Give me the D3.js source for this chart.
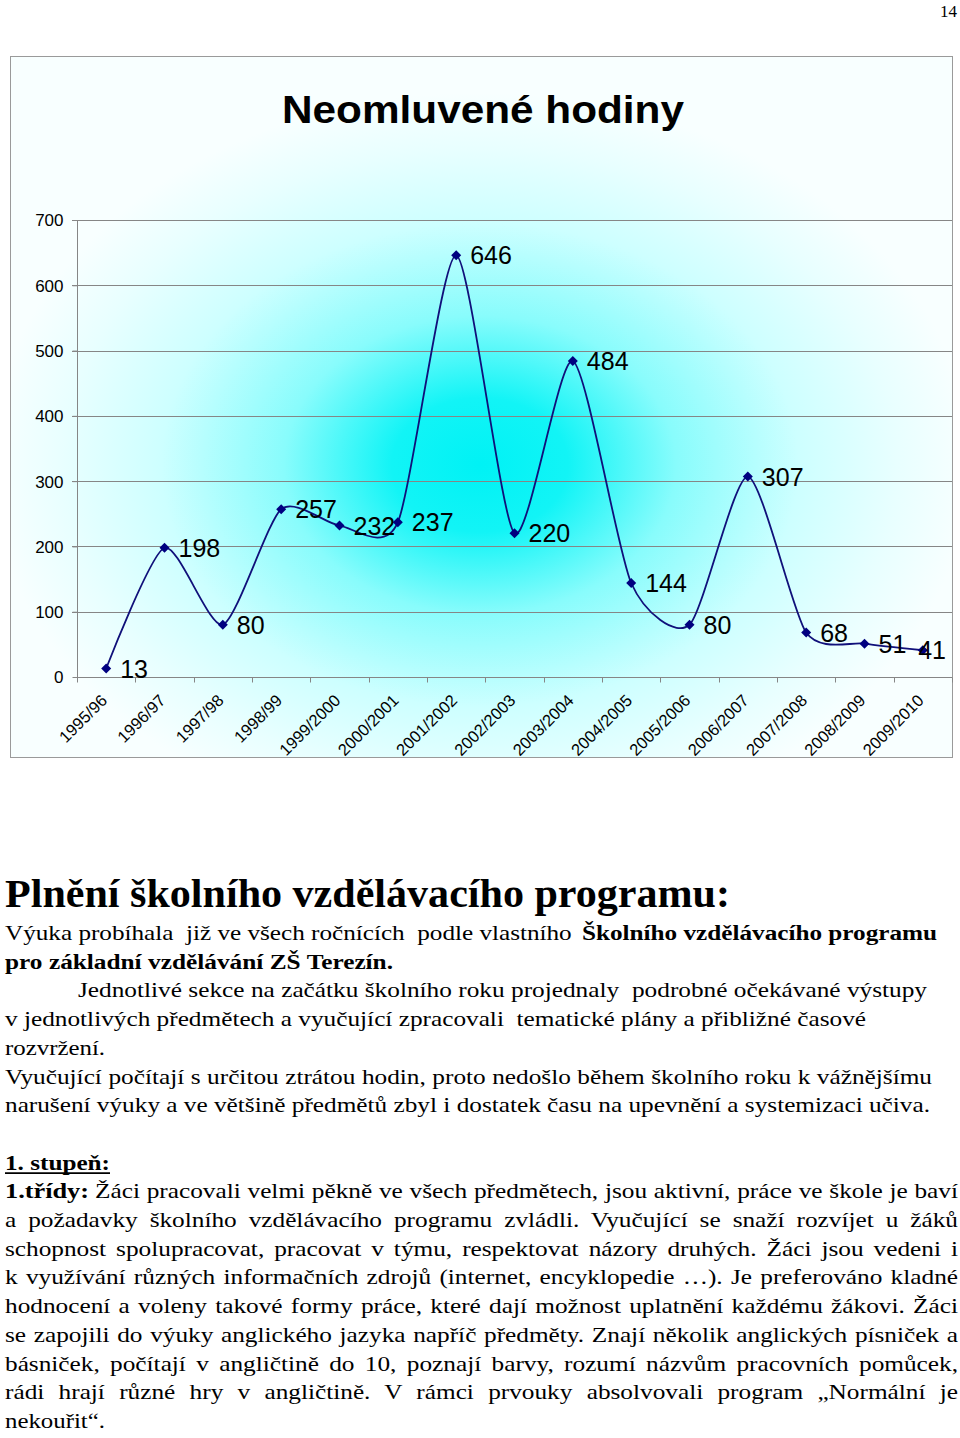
<!DOCTYPE html>
<html><head><meta charset="utf-8">
<script src="https://cdn.jsdelivr.net/npm/d3@7"></script>
<style>
body{margin:0;background:#fff;}
svg{display:block;}
text{white-space:pre;}
.sans{font-family:"Liberation Sans", Arial, sans-serif;}
.serif{font-family:"Liberation Serif", "Times New Roman", serif;}
</style>
</head><body>
<svg id="c" width="960" height="1438"></svg>
<script>
// ---------- chart data ----------
const categories = ["1995/96","1996/97","1997/98","1998/99","1999/2000","2000/2001","2001/2002","2002/2003","2003/2004","2004/2005","2005/2006","2006/2007","2007/2008","2008/2009","2009/2010"];
const values = [13,198,80,257,232,237,646,220,484,144,80,307,68,51,41];
const yTicks = [0,100,200,300,400,500,600,700];
const chartTitle = "Neomluvené hodiny";
const pageNumber = "14";

// ---------- document text ----------
const heading = "Plnění školního vzdělávacího programu:";
const bodyLines = [
  [["Výuka probíhala  již ve všech ročnících  podle vlastního ", false], ["Školního vzdělávacího programu", true]],
  [["pro základní vzdělávání ZŠ Terezín.", true]],
  [["Jednotlivé sekce na začátku školního roku projednaly  podrobné očekávané výstupy", false]],
  [["v jednotlivých předmětech a vyučující zpracovali  tematické plány a přibližné časové", false]],
  [["rozvržení.", false]],
  [["Vyučující počítají s určitou ztrátou hodin, proto nedošlo během školního roku k vážnějšímu", false]],
  [["narušení výuky a ve většině předmětů zbyl i dostatek času na upevnění a systemizaci učiva.", false]],
  [],
  [["1. stupeň:", true]],
  [["1.třídy:", true], ["Žáci pracovali velmi pěkně ve všech předmětech, jsou aktivní, práce ve škole je baví", false]],
  [["a požadavky školního vzdělávacího programu zvládli. Vyučující se snaží rozvíjet u žáků", false]],
  [["schopnost spolupracovat, pracovat v týmu, respektovat názory druhých. Žáci jsou vedeni i", false]],
  [["k využívání různých informačních zdrojů (internet, encyklopedie …). Je preferováno kladné", false]],
  [["hodnocení a voleny takové formy práce, které dají možnost uplatnění každému žákovi. Žáci", false]],
  [["se zapojili do výuky anglického jazyka napříč předměty. Znají několik anglických písniček a", false]],
  [["básniček, počítají v angličtině do 10, poznají barvy, rozumí názvům pracovních pomůcek,", false]],
  [["rádi hrají různé hry v angličtině. V rámci prvouky absolvovali program „Normální je", false]],
  [["nekouřit“.", false]]
];
// layout: [x0,x1] spans for each segment of each line (measured from the page)
const bodySpans = [
  [[5,578],[582,937]],
  [[5,393]],
  [[78,927]],
  [[5,866]],
  [[5,105]],
  [[5,932]],
  [[5,930]],
  [],
  [[5,110]],
  [[5,89],[95,958]],
  [[5,958]],[[5,958]],[[5,958]],[[5,958]],[[5,958]],[[5,958]],[[5,958]],
  [[5,105]]
];

const svg = d3.select("#c");
const defs = svg.append("defs");
const grad = defs.append("radialGradient").attr("id","bg")
  .attr("gradientUnits","userSpaceOnUse")
  .attr("cx",480).attr("cy",465).attr("r",490)
  .attr("gradientTransform","translate(480 465) scale(1 0.76) translate(-480 -465)");
[[0,"#00F2F5"],[0.18,"#12F4F6"],[0.4,"#88FCFC"],[0.65,"#CDFFFF"],[0.85,"#E8FFFF"],[1,"#F8FFFF"]]
  .forEach(([o,c])=>grad.append("stop").attr("offset",o).attr("stop-color",c));

// page number
svg.append("text").attr("class","serif").attr("x",957).attr("y",17).attr("text-anchor","end")
  .attr("font-size",17).text(pageNumber);

// chart frame
svg.append("rect").attr("x",10.5).attr("y",56.5).attr("width",942).attr("height",701)
  .attr("fill","url(#bg)").attr("stroke","#9a9a9a").attr("stroke-width",1);

// title
svg.append("text").attr("class","sans").attr("x",483).attr("y",123).attr("text-anchor","middle")
  .attr("font-weight","bold")
  .attr("font-size",39).attr("textLength",402).attr("lengthAdjust","spacingAndGlyphs")
  .text(chartTitle);

// scales
const x = d3.scaleBand().domain(categories).range([77,952]).padding(0);
const y = d3.scaleLinear().domain([0,700]).range([677,220]);
const cx = d => x(d) + x.bandwidth()/2;

// gridlines
const g = svg.append("g");
g.selectAll(".grid").data(yTicks.filter(t=>t>0)).enter().append("line")
  .attr("x1",72).attr("x2",952).attr("y1",d=>Math.round(y(d))+0.5).attr("y2",d=>Math.round(y(d))+0.5)
  .attr("stroke","#868686").attr("stroke-width",1);

// y axis
const yAxis = d3.axisLeft(y).tickValues(yTicks).tickSize(5).tickPadding(9);
const ya = svg.append("g").attr("transform","translate(77.5,0)").call(yAxis);
ya.attr("font-family",null).attr("font-size",null);
ya.select(".domain").attr("stroke","#868686").attr("d","M0,220V677.5");
ya.selectAll(".tick line").attr("stroke","#868686");
ya.selectAll(".tick text").attr("class","sans")
  .attr("font-size",17).attr("fill","#000").attr("dy","0.35em");

// x axis
const xAxis = d3.axisBottom(x).tickSize(0).tickFormat(d=>d);
const xa = svg.append("g").attr("transform","translate(0,677.5)").call(xAxis);
xa.attr("font-family",null).attr("font-size",null);
xa.select(".domain").attr("stroke","#868686").attr("d","M77,0H952");
xa.selectAll(".tick text").attr("class","sans")
  .attr("font-size",16.5).attr("fill","#000")
  .attr("text-anchor","end").attr("dy",0).attr("y",0)
  .attr("transform","translate(2,24) rotate(-45)");
// boundary tick marks
const bounds = categories.map(c=>x(c)).concat([x.range()[1]]);
xa.selectAll(".btick").data(bounds).enter().append("line")
  .attr("x1",d=>Math.round(d)+0.5).attr("x2",d=>Math.round(d)+0.5).attr("y1",0).attr("y2",5)
  .attr("stroke","#868686");

// line
const pts = categories.map((c,i)=>[cx(c), y(values[i])]);
svg.append("path").datum(pts)
  .attr("d", d3.line().curve(d3.curveCardinal.tension(0.3)))
  .attr("fill","none").attr("stroke","#10107a").attr("stroke-width",1.8);

// markers
svg.selectAll(".mk").data(pts).enter().append("path")
  .attr("transform",d=>`translate(${d[0]},${d[1]}) rotate(45)`)
  .attr("d", d3.symbol(d3.symbolSquare, 50))
  .attr("fill","#000080");

// data labels
const labels = svg.selectAll(".lbl").data(values).enter().append("text")
  .attr("class","sans").attr("font-size",25).attr("fill","#000")
  .attr("y",(d,i)=>pts[i][1]).attr("dy","0.36em")
  .text(d=>d);
labels.each(function(d,i){
  const w = this.getComputedTextLength();
  const lx = Math.min(pts[i][0] + 14, 946 - w);
  d3.select(this).attr("x", lx);
});

// ---------- document text ----------
svg.append("text").attr("class","serif").attr("x",5).attr("y",907)
  .attr("font-weight","bold")
  .attr("font-size",40).attr("textLength",725).attr("lengthAdjust","spacingAndGlyphs")
  .text(heading);

const fs = 22;
// estimate the scan's horizontal stretch from lines that end naturally (not justified)
function natWidth(str, bold){
  const t = svg.append("text").attr("class","serif").attr("font-size",fs)
    .attr("font-weight", bold ? "bold" : "normal").text(str);
  const w = t.node().getComputedTextLength(); t.remove(); return w;
}
const refIdx = [2,3,5,6];
const sx = d3.mean(refIdx, i => (bodySpans[i][0][1]-bodySpans[i][0][0]) / natWidth(bodyLines[i][0][0], false));

const lineStep = 28.7, firstBase = 940;
bodyLines.forEach((segs, li) => {
  const by = firstBase + li*lineStep;
  segs.forEach((seg, si) => {
    const [x0, x1] = bodySpans[li][si];
    const t = svg.append("text").attr("class","serif")
      .attr("transform",`translate(${x0},${by}) scale(${sx},1)`)
      .attr("font-weight", seg[1] ? "bold" : "normal")
      .attr("font-size",fs).attr("fill","#000")
      .text(seg[0]);
    const target = (x1 - x0) / sx;
    const nat = t.node().getComputedTextLength();
    const nSpaces = (seg[0].trim().match(/ /g) || []).length;
    if (nat < target && nSpaces > 0) {
      t.attr("word-spacing", (target - nat)/nSpaces);
    } else {
      t.attr("textLength", target).attr("lengthAdjust","spacingAndGlyphs");
    }
    if (seg[0] === "1. stupeň:") {
      svg.append("line").attr("x1",x0).attr("x2",x1).attr("y1",by+3.5).attr("y2",by+3.5)
        .attr("stroke","#000").attr("stroke-width",1.6);
    }
  });
});
</script>
</body></html>
